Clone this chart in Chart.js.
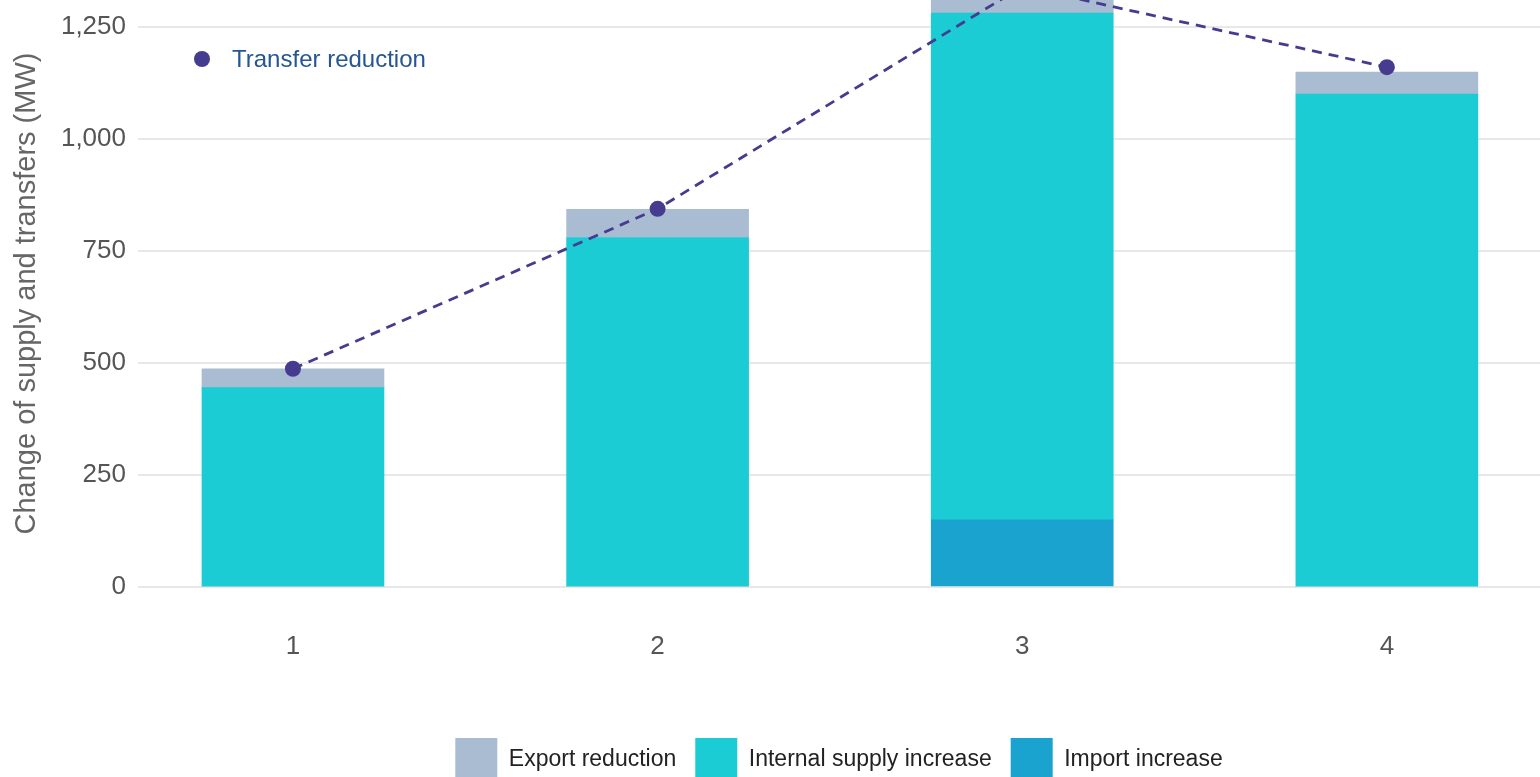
<!DOCTYPE html>
<html>
<head>
<meta charset="utf-8">
<title>Change of supply and transfers</title>
<script src="https://cdn.jsdelivr.net/npm/chart.js@4.4.1/dist/chart.umd.min.js"></script>
<style>
  html, body { margin: 0; padding: 0; background: #fff; }
  #wrap { position: relative; width: 1540px; height: 777px; overflow: hidden; }
  #chart { position: absolute; left: 0; top: 0; }
  #transferKey {
    position: absolute; left: 194px; top: 45px;
    font: 24px "Liberation Sans", Arial, sans-serif; color: #245692;
    display: flex; align-items: center; white-space: nowrap;
  }
  #transferKey .dot {
    width: 16px; height: 16px; border-radius: 50%;
    background: #463c8f; margin-right: 22px;
  }
</style>
</head>
<body>
<div id="wrap">
  <canvas id="chart" width="1540" height="792"></canvas>
  <div id="transferKey"><span class="dot"></span><span>Transfer reduction</span></div>
</div>
<script>
// steps along the x axis
const steps = [1, 2, 3, 4];

// stacked supply components (MW), bottom to top
const importIncrease  = [0, 0, 150, 0];
const internalSupply  = [445, 780, 1131, 1100];
const exportReduction = [42, 63, 59, 49];

// transfer reduction line (MW)
const transferReduction = [487, 844, 1340, 1160];

const yTicks = [0, 250, 500, 750, 1000, 1250];

const FONT = '"Liberation Sans", Arial, sans-serif';

const pts = vals => steps.map((s, i) => ({ x: s, y: vals[i] }));

function barSet(label, vals, color){
  return {
    type: 'bar', label, data: pts(vals), backgroundColor: color,
    borderWidth: 0, barThickness: 182, stack: 'supply', order: 1
  };
}

const ctx = document.getElementById('chart').getContext('2d');
new Chart(ctx, {
  data: {
    datasets: [
      {
        type: 'line', label: 'Transfer reduction', data: pts(transferReduction),
        borderColor: '#463c8f', borderWidth: 2.8, borderDash: [10, 7],
        pointRadius: 8, pointBackgroundColor: '#463c8f', pointBorderWidth: 0,
        fill: false, stack: 'transfer', order: 0
      },
      barSet('Import increase', importIncrease, '#1ba3cf'),
      barSet('Internal supply increase', internalSupply, '#1bccd4'),
      barSet('Export reduction', exportReduction, '#a9bcd2')
    ]
  },
  options: {
    responsive: false,
    devicePixelRatio: 1,
    animation: false,
    layout: { padding: 0, autoPadding: false },
    plugins: {
      tooltip: { enabled: false },
      legend: {
        position: 'bottom',
        fullSize: false,
        reverse: true,
        labels: {
          boxWidth: 42, boxHeight: 44, padding: 19,
          color: '#222', font: { family: FONT, size: 23 },
          filter: item => item.text !== 'Transfer reduction'
        }
      }
    },
    scales: {
      x: {
        type: 'linear', min: 0.575, max: 4.42, stacked: true, offset: false,
        grid: { display: false }, border: { display: false },
        ticks: { color: '#555', font: { family: FONT, size: 26 }, padding: 36 },
        afterBuildTicks: s => { s.ticks = steps.map(v => ({ value: v })); },
        afterFit: s => { s.height = 132; s.paddingLeft = 0; s.paddingRight = 0; }
      },
      y: {
        min: 0, max: 1310, stacked: true,
        grid: { color: '#e8e8e8', lineWidth: 2, drawTicks: false },
        border: { display: false },
        ticks: { color: '#555', font: { family: FONT, size: 26 }, padding: 12 },
        afterBuildTicks: s => { s.ticks = yTicks.map(v => ({ value: v })); },
        afterFit: s => { s.width = 138; s.paddingTop = 0; s.paddingBottom = 0; },
        title: {
          display: true, text: 'Change of supply and transfers (MW)',
          color: '#666', font: { family: FONT, size: 29 },
          padding: { top: 10, bottom: 0 }
        }
      }
    }
  }
});
</script>
</body>
</html>
